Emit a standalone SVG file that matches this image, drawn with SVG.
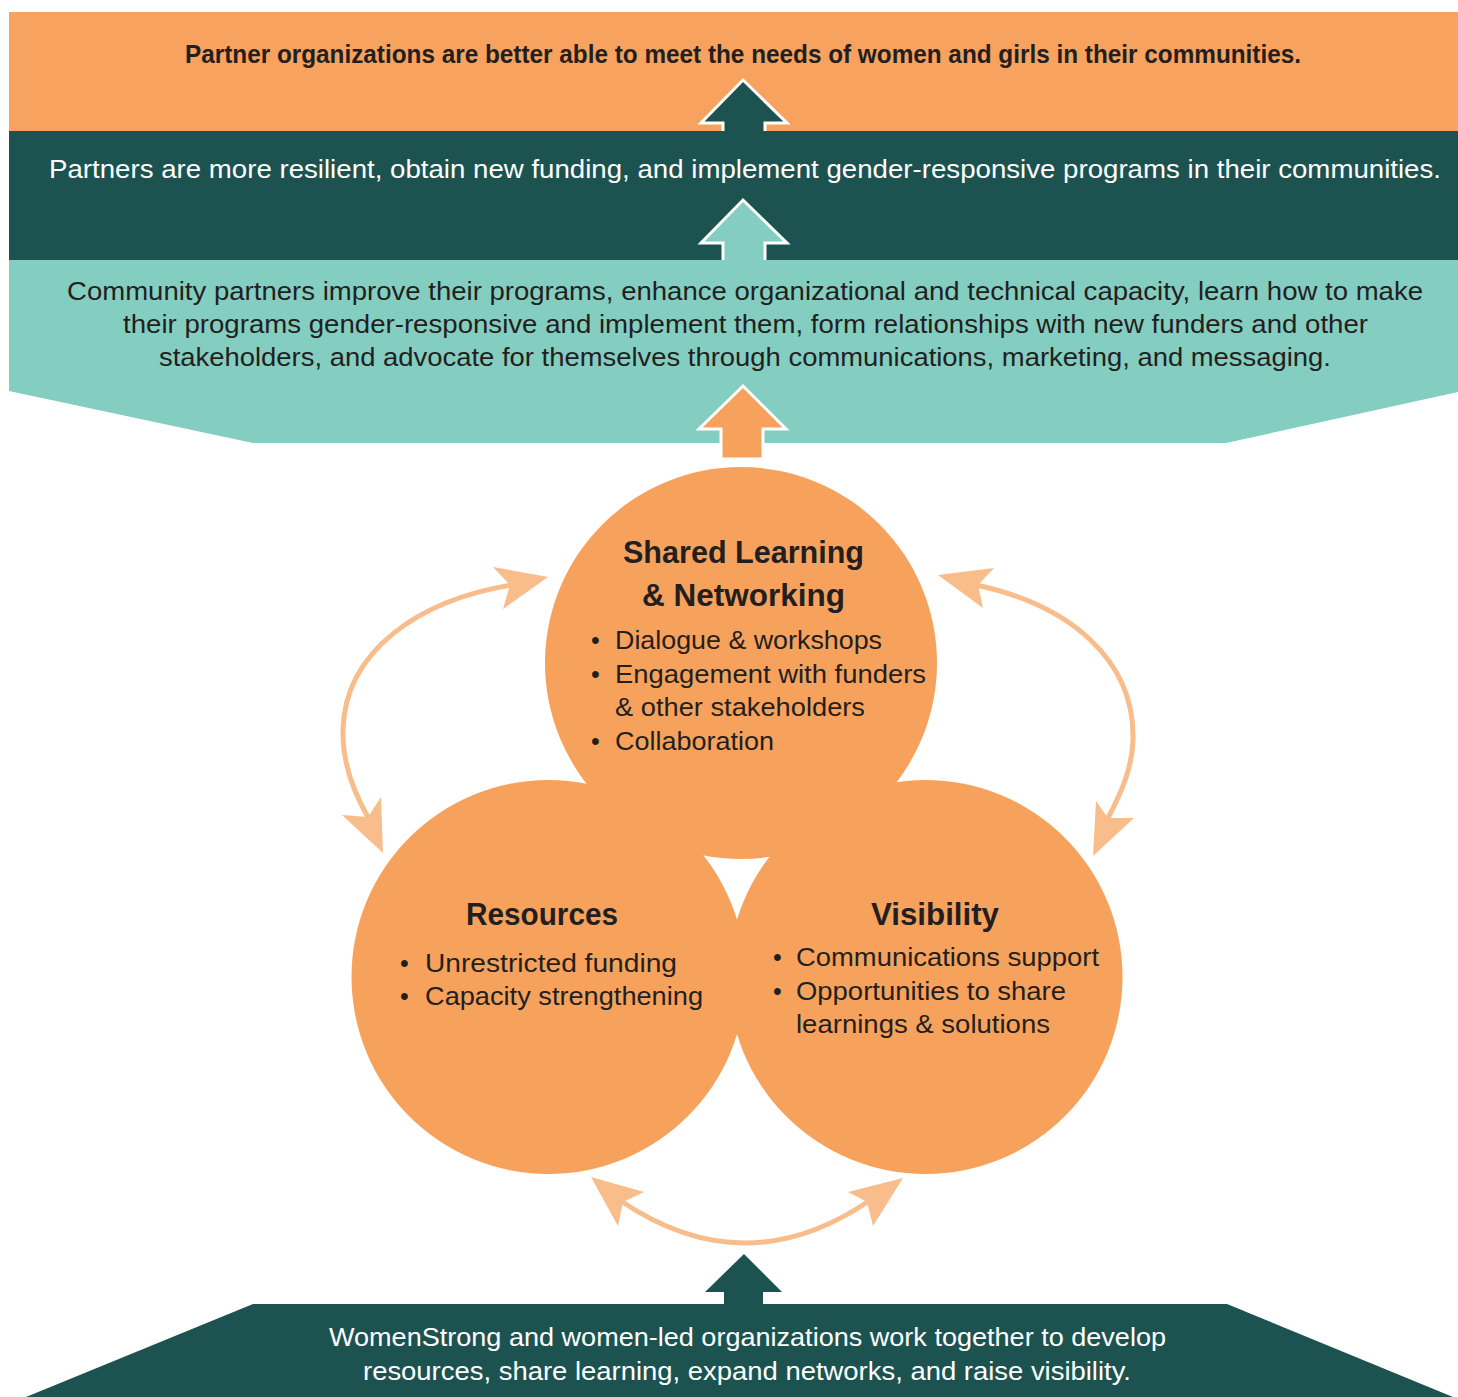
<svg xmlns="http://www.w3.org/2000/svg" width="1458" height="1397" viewBox="0 0 1458 1397">
<style>
.t{font-family:"Liberation Sans",Arial,sans-serif;font-size:25px;fill:#231F20}
.w{fill:#FFFFFF}
.b{font-weight:bold}
.title{font-family:"Liberation Sans",Arial,sans-serif;font-size:31px;font-weight:bold;fill:#231F20}
.circ{fill:#F7A25C}
.curve{fill:none;stroke:#F9BD8C;stroke-width:5}
.head{fill:#F9BD8C}
.big{stroke:#FFFFFF;stroke-width:3;stroke-linejoin:miter}
</style>
<rect width="1458" height="1397" fill="#FFFFFF"/>
<g id="bands">
<rect id="band-goal" x="9" y="12" width="1449" height="119" fill="#F7A25E"/>
<rect id="band-outcome" x="9" y="131" width="1449" height="129" fill="#1C5351"/>
<polygon id="band-results" points="9,260 1458,260 1458,392 1226,443 253,443 9,391" fill="#83CDC1"/>
<polygon id="band-base" points="253,1304 1227,1304 1453,1397 26,1397" fill="#1C5351"/>
</g>
<g id="big-arrows">
<path class="big" d="M723,131 V123 H701 L743,80 L787,123 H765 V131" fill="#1C5351"/>
<path class="big" d="M723,260 V243 H701 L743,200 L787,243 H765 V260" fill="#83CDC1"/>
<path class="big" d="M763,459 H721 V429 H699 L743,386 L786,429 H763 Z" fill="#F7A25C"/>
<path d="M724,1305 V1292 H705 L744,1254 L782,1292 H763 V1305 Z" fill="#1C5351"/>
</g>
<g id="node-shared">
<circle class="circ" cx="741" cy="663" r="196"/>
</g>
<g id="node-resources">
<circle class="circ" cx="548.5" cy="977" r="197"/>
</g>
<g id="node-visibility">
<circle class="circ" cx="925.5" cy="977" r="197"/>
</g>
<g id="connectors">
<path class="curve" d="M512,585 C420,600 345,650 343,730 C342,765 355,795 369,819"/>
<polygon class="head" points="548,577 493,567 510,585 503,609"/>
<polygon class="head" points="383,853 342,815 368,817 381,797"/>
<path class="curve" d="M976,585 C1070,605 1135,660 1133,740 C1132,770 1120,795 1107,820"/>
<polygon class="head" points="938,575 994,568 978,585 983,608"/>
<polygon class="head" points="1093,856 1096,801 1108,818 1134,818"/>
<path class="curve" d="M621,1201 Q745,1285 869,1201"/>
<polygon class="head" points="591,1177 644,1192 623,1202 618,1226"/>
<polygon class="head" points="903,1178 848,1192 867,1202 873,1226"/>
</g>
<g id="texts">
<text class="t b" x="185" y="63" textLength="1116" lengthAdjust="spacingAndGlyphs">Partner organizations are better able to meet the needs of women and girls in their communities.</text>
<text class="t w" x="49" y="178" textLength="1392" lengthAdjust="spacingAndGlyphs">Partners are more resilient, obtain new funding, and implement gender-responsive programs in their communities.</text>
<text class="t" x="67" y="300" textLength="1356" lengthAdjust="spacingAndGlyphs">Community partners improve their programs, enhance organizational and technical capacity, learn how to make</text>
<text class="t" x="123" y="333" textLength="1245" lengthAdjust="spacingAndGlyphs">their programs gender-responsive and implement them, form relationships with new funders and other</text>
<text class="t" x="159" y="366" textLength="1172" lengthAdjust="spacingAndGlyphs">stakeholders, and advocate for themselves through communications, marketing, and messaging.</text>
<text class="title" x="623" y="563" textLength="241" lengthAdjust="spacingAndGlyphs">Shared Learning</text>
<text class="title" x="642" y="606" textLength="203" lengthAdjust="spacingAndGlyphs">&amp; Networking</text>
<text class="t" x="591" y="649">•</text>
<text class="t" x="615" y="649" textLength="267" lengthAdjust="spacingAndGlyphs">Dialogue &amp; workshops</text>
<text class="t" x="591" y="683">•</text>
<text class="t" x="615" y="683" textLength="311" lengthAdjust="spacingAndGlyphs">Engagement with funders</text>
<text class="t" x="615" y="716" textLength="250" lengthAdjust="spacingAndGlyphs">&amp; other stakeholders</text>
<text class="t" x="591" y="750">•</text>
<text class="t" x="615" y="750" textLength="159" lengthAdjust="spacingAndGlyphs">Collaboration</text>
<text class="title" x="466" y="925" textLength="152" lengthAdjust="spacingAndGlyphs">Resources</text>
<text class="t" x="400" y="972">•</text>
<text class="t" x="425" y="972" textLength="252" lengthAdjust="spacingAndGlyphs">Unrestricted funding</text>
<text class="t" x="400" y="1005">•</text>
<text class="t" x="425" y="1005" textLength="278" lengthAdjust="spacingAndGlyphs">Capacity strengthening</text>
<text class="title" x="871" y="925" textLength="128" lengthAdjust="spacingAndGlyphs">Visibility</text>
<text class="t" x="773" y="966">•</text>
<text class="t" x="796" y="966" textLength="303" lengthAdjust="spacingAndGlyphs">Communications support</text>
<text class="t" x="773" y="1000">•</text>
<text class="t" x="796" y="1000" textLength="270" lengthAdjust="spacingAndGlyphs">Opportunities to share</text>
<text class="t" x="796" y="1033" textLength="254" lengthAdjust="spacingAndGlyphs">learnings &amp; solutions</text>
<text class="t w" x="329" y="1346" textLength="837" lengthAdjust="spacingAndGlyphs">WomenStrong and women-led organizations work together to develop</text>
<text class="t w" x="363" y="1380" textLength="768" lengthAdjust="spacingAndGlyphs">resources, share learning, expand networks, and raise visibility.</text>
</g>
</svg>
